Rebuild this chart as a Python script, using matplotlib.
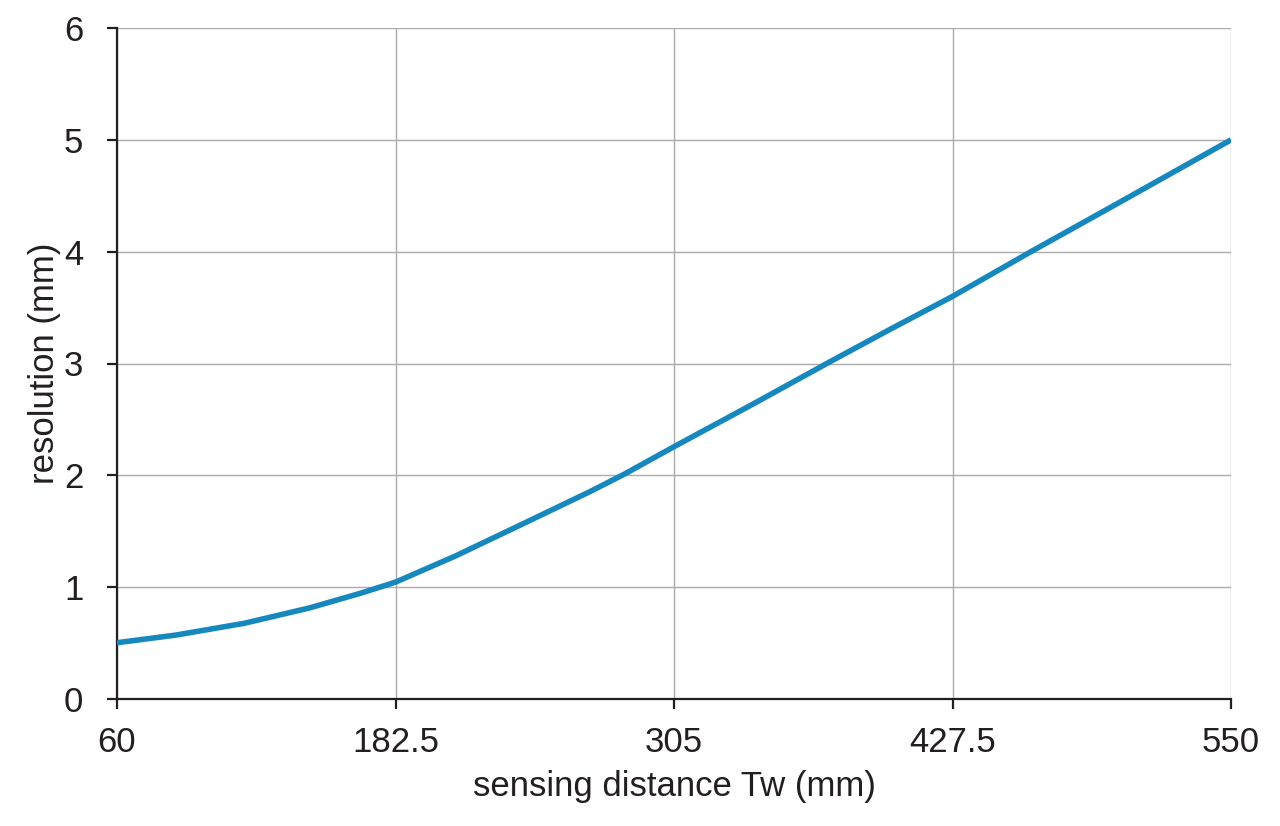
import numpy as np
import matplotlib.pyplot as plt

plt.rcParams['font.family'] = ['Liberation Sans', 'DejaVu Sans']

# curve
distance = [60, 86, 116, 145, 168, 182.5, 209, 239, 268, 283, 305,
            340, 374, 400, 427.5, 462, 500, 550]
resolution = [0.503, 0.572, 0.677, 0.816, 0.951, 1.045, 1.28, 1.571, 1.854, 2.009, 2.256,
              2.64, 3.02, 3.305, 3.60, 4.0, 4.43, 5.0]

xticks = [60, 182.5, 305, 427.5, 550]
xticklabels = ["60", "182.5", "305", "427.5", "550"]
yticks = [0, 1, 2, 3, 4, 5, 6]

dark = "#231f20"

fig = plt.figure(figsize=(12.8, 8.26), dpi=100)
ax = fig.add_axes([117/1280, 127/826, 1114/1280, 671/826])

ax.plot(distance, resolution, color="#1788be", lw=4, solid_capstyle="butt",
        solid_joinstyle="round", zorder=3)

ax.set_xlim(60, 550)
ax.set_ylim(0, 6)
ax.set_xticks(xticks)
ax.set_xticklabels(xticklabels)
ax.set_yticks(yticks)
ax.grid(True, color="#ababab", lw=1.0)
ax.set_axisbelow(True)

for s in ["top", "right"]:
    ax.spines[s].set_visible(False)
for s in ["left", "bottom"]:
    ax.spines[s].set_color(dark)
    ax.spines[s].set_linewidth(1.6)

ax.tick_params(direction="out", length=7.2, width=1.6, color=dark,
               labelsize=25, labelcolor=dark, pad=12)
ax.tick_params(axis="y", pad=17)

ax.set_xlabel("sensing distance Tw (mm)", fontsize=25, color=dark, labelpad=8)
ax.set_ylabel("resolution (mm)", fontsize=25, color=dark, labelpad=2)

fig.savefig("out.png", dpi=100, facecolor="white")
